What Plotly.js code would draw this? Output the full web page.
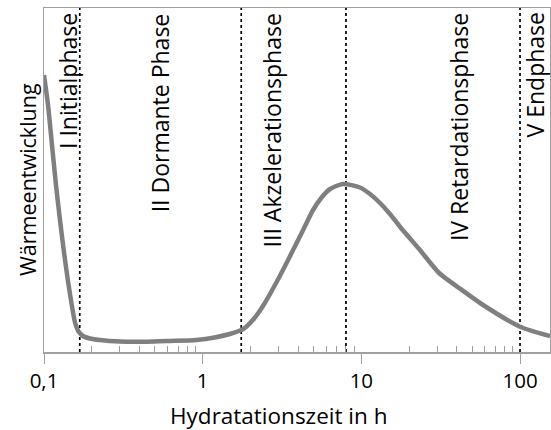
<!DOCTYPE html>
<html>
<head>
<meta charset="utf-8">
<script src="https://cdn.plot.ly/plotly-3.0.1.min.js"></script>
<style>html,body{margin:0;padding:0;overflow:hidden;background:#fff}</style>
</head>
<body>
<div id="chart" style="width:551px;height:430px"></div>
<script>
// Hydration time in hours (log axis)
const timeH = [0.1, 0.106, 0.1123, 0.119, 0.1261, 0.1336, 0.1416, 0.15, 0.1566, 0.1643, 0.1759, 0.1947, 0.225,
  0.301, 0.4427, 0.62, 0.913, 1.19, 1.479, 1.752, 1.883, 2.123, 2.383, 3.048, 3.91, 4.42, 4.96,
  5.65, 6.35, 7.66, 9.81, 11.34, 13.11, 15.15, 17.52, 23.4, 30.9, 41.3, 58.5, 100, 154.5];
// Heat development (arbitrary units)
const heat = [277, 247, 207, 167, 132, 100, 71, 46, 30, 21, 16, 13.5, 12,
  10.5, 10.3, 11, 12, 14.5, 18, 22, 25.3, 34, 45.3, 75.3, 109, 126, 142,
  155, 163, 168, 164.5, 158, 149, 138, 125.3, 102, 79, 64, 47, 25.3, 16];
// Phase boundaries (h)
const phaseBounds = [0.168, 1.75, 8.0, 100];
// Phase labels and their label positions (h)
const phaseNames = ["I Initialphase", "II Dormante Phase", "III Akzelerationsphase", "IV Retardationsphase", "V Endphase"];
const phaseLabelAt = [0.1416, 0.537, 2.75, 41.3, 122.5];
// Tick labels
const tickVals = [0.1, 1, 10, 100];
const tickText = ["0,1", "1", "10", "100"];
const minorTickVals = [0.2, 0.3, 0.4, 0.5, 0.6, 0.7, 0.8, 0.9, 2, 3, 4, 5, 6, 7, 8, 9,
  20, 30, 40, 50, 60, 70, 80, 90];
const xTitle = "Hydratationszeit in h";
const yTitle = "Wärmeentwicklung";

const FONT = "Open Sans";
const yMax = 344;

const traces = [];
phaseBounds.forEach(b => {
  traces.push({
    x: [b, b], y: [0, yMax], mode: "lines", type: "scatter",
    line: {color: "#000", width: 1.7, dash: "3px,3px"},
    hoverinfo: "skip", showlegend: false, cliponaxis: false
  });
});
traces.push({
  x: timeH, y: heat, mode: "lines", type: "scatter",
  line: {color: "#7f7f7f", width: 4.5, shape: "spline", smoothing: 0.7},
  showlegend: false
});

const annotations = phaseNames.map((t, i) => ({
  x: Math.log10(phaseLabelAt[i]), y: 1, xref: "x", yref: "paper",
  yshift: -3,
  text: t, textangle: -90, showarrow: false,
  xanchor: "center", yanchor: "top",
  font: {family: FONT, size: 23, color: "#000"}
}));
annotations.push({
  x: (278 - 44) / 506, y: 0, xref: "paper", yref: "paper", yshift: -46,
  text: xTitle, showarrow: false, xanchor: "center", yanchor: "top",
  font: {family: FONT, size: 22.5, color: "#000"}
});
annotations.push({
  x: (27 - 44) / 506, y: 0.5, xref: "paper", yref: "paper",
  text: yTitle, textangle: -90, showarrow: false, xanchor: "center", yanchor: "middle",
  font: {family: FONT, size: 21.5, color: "#000"}
});

const layout = {
  width: 551, height: 430,
  margin: {l: 44, r: 1, t: 8, b: 78},
  paper_bgcolor: "#fff", plot_bgcolor: "#fff",
  showlegend: false,
  xaxis: {
    type: "log", range: [-1, Math.log10(154.5)],
    showgrid: false, zeroline: false,
    showline: true, linecolor: "#a0a0a0", linewidth: 1.5, mirror: true,
    tickmode: "array", tickvals: tickVals, ticktext: tickText,
    ticks: "outside", ticklen: 10, tickwidth: 1, tickcolor: "#a0a0a0",
    tickfont: {family: FONT, size: 20.5, color: "#000"},
    minor: {tickmode: "array", tickvals: minorTickVals, ticks: "inside", ticklen: 6, tickwidth: 1, tickcolor: "#a0a0a0", showgrid: false}
  },
  yaxis: {
    range: [0, yMax], showgrid: false, zeroline: false,
    showline: true, linecolor: "#a0a0a0", linewidth: 1.5, mirror: true,
    showticklabels: false, ticks: ""
  },
  annotations: annotations
};

Plotly.newPlot("chart", traces, layout, {staticPlot: true, displayModeBar: false});
</script>
</body>
</html>
